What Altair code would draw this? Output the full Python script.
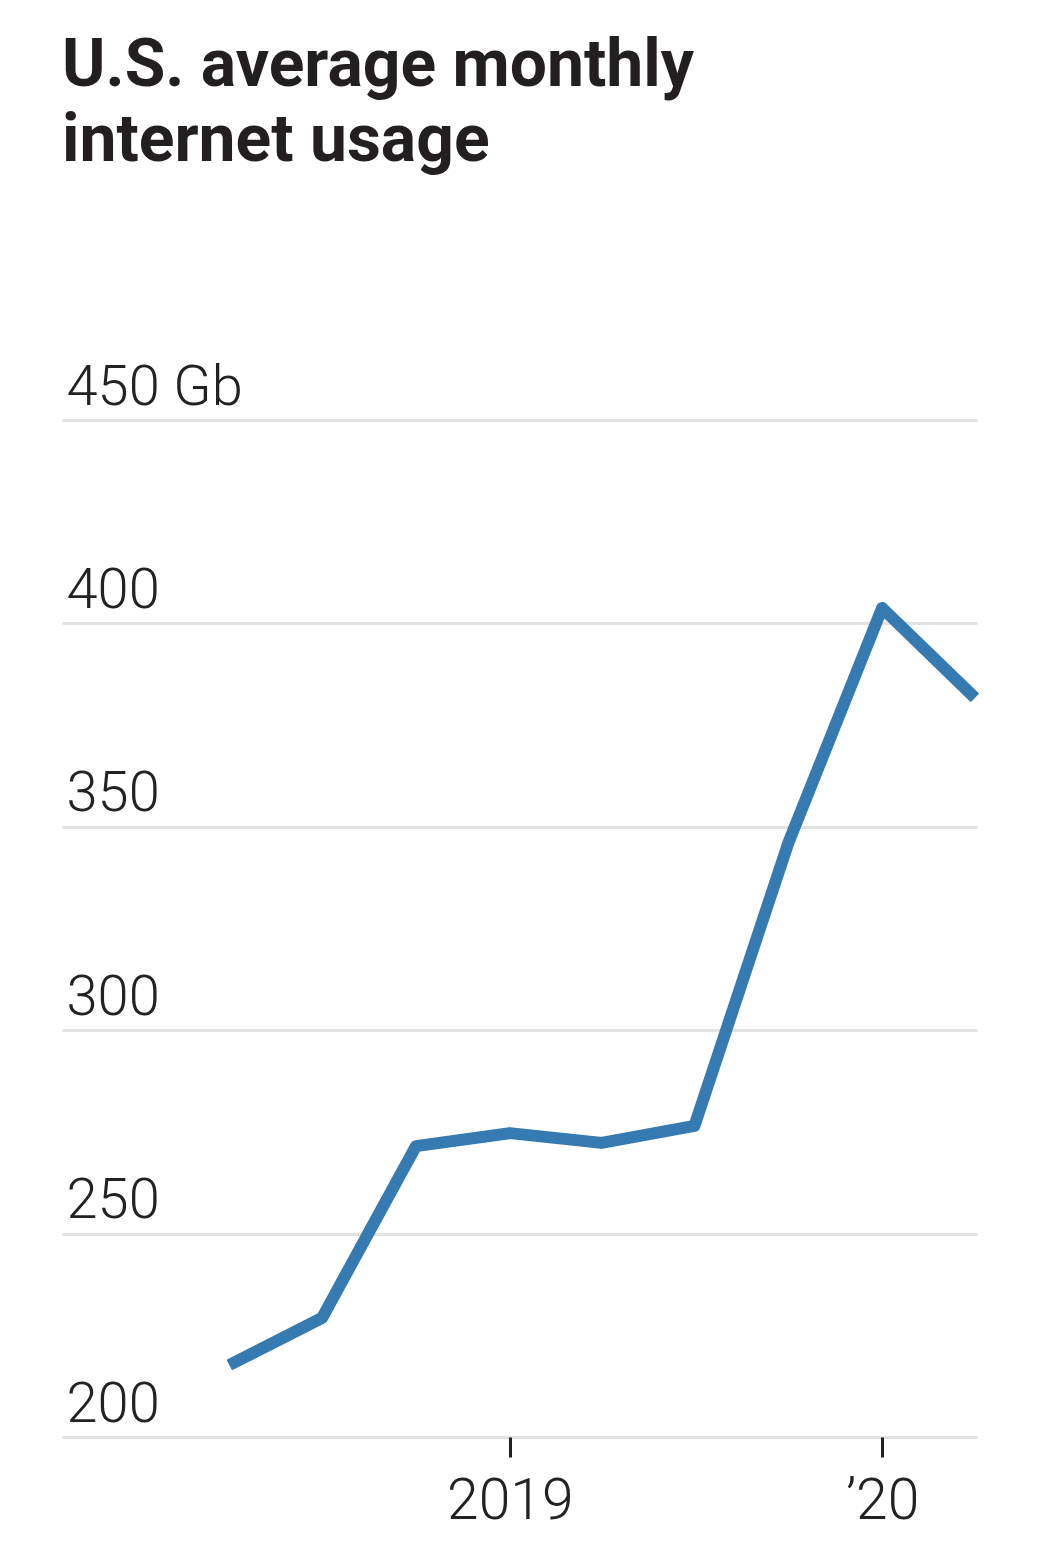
import altair as alt
import pandas as pd

dates = ["2018-04-01", "2018-07-01", "2018-10-01", "2019-01-01", "2019-04-01",
         "2019-07-01", "2019-10-01", "2020-01-01", "2020-04-01"]
usage_gb = [217.7, 229.3, 271.5, 274.7, 272.3, 276.5, 346.0, 403.8, 381.7]

y_ticks = [200, 250, 300, 350, 400, 450]
x_tick_years = [2019, 2020]
x_tick_labels = ["2019", "\u201920"]

title_lines = ["U.S. average monthly", "internet usage"]

df = pd.DataFrame({"date": dates, "usage": usage_gb})

x_values = [alt.DateTime(year=y, month=1, date=1) for y in x_tick_years]

label_expr_x = "year(datum.value) == %d ? '%s' : '%s'" % (
    x_tick_years[0], x_tick_labels[0], x_tick_labels[1])

chart = alt.Chart(df).mark_line(
    color="#357ab1", strokeWidth=12, strokeJoin="round", strokeCap="butt"
).encode(
    x=alt.X(
        "date:T",
        scale=alt.Scale(domain=[alt.DateTime(year=2017, month=10, date=19),
                                alt.DateTime(year=2020, month=4, date=3)]),
        axis=alt.Axis(
            title=None, values=x_values, labelExpr=label_expr_x,
            grid=False, domain=False, ticks=True, tickSize=20, tickWidth=3,
            tickColor="#222222", labelPadding=16, labelFontSize=57,
            labelFont="Roboto", labelFontWeight=300, labelColor="#222222",
            labelBaseline="top", labelFlush=False, labelOverlap=False,
        ),
    ),
    y=alt.Y(
        "usage:Q",
        scale=alt.Scale(domain=[200, 450], nice=False, zero=False),
        axis=alt.Axis(
            title=None, values=y_ticks,
            labelExpr="datum.value == 450 ? '450 Gb' : datum.label",
            grid=True, gridColor="#e2e2e2", gridWidth=3,
            domain=False, ticks=False, tickSize=0,
            labelAlign="left", labelPadding=-4, labelOffset=-16,
            labelBaseline="alphabetic", labelFontSize=56, labelFont="Roboto",
            labelFontWeight=300, labelColor="#222222", labelFlush=False,
            labelOverlap=False,
        ),
    ),
).properties(
    width=915,
    height=1017,
    background="white",
    title=alt.TitleParams(
        text=title_lines, anchor="start", frame="group", fontSize=66,
        font="Roboto", fontWeight="bold", lineHeight=75, color="#231f20",
        offset=184,
    ),
    autosize=alt.AutoSizeParams(type="none"),
    padding={"left": 54, "top": 412, "right": 60, "bottom": 100},
).configure_view(strokeWidth=0, stroke="transparent")

chart.save("out.html", embed_options={"renderer": "svg", "actions": False})
